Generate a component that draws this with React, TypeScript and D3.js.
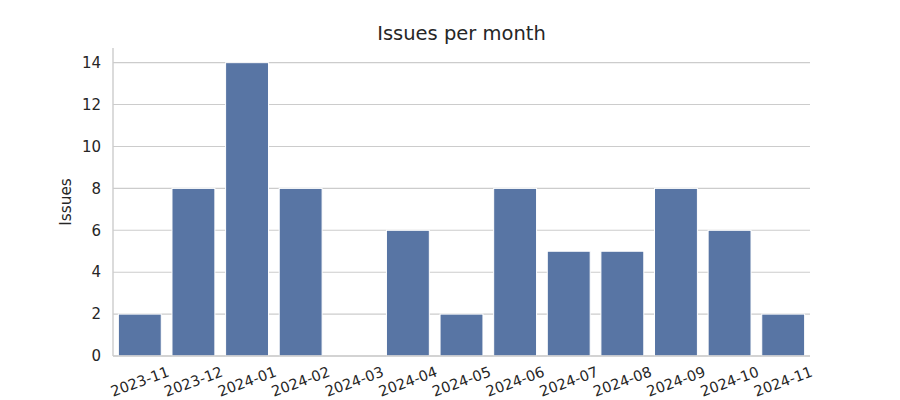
import React from "react";
import * as d3 from "d3";

const months = ["2023-11","2023-12","2024-01","2024-02","2024-03","2024-04","2024-05","2024-06","2024-07","2024-08","2024-09","2024-10","2024-11"];
const issues = [2, 8, 14, 8, 0, 6, 2, 8, 5, 5, 8, 6, 2];
const yTicks = [0, 2, 4, 6, 8, 10, 12, 14];

const W = 900, H = 400;
const L = 113, R = 810, T = 48, B = 356;
const FONT = "DejaVu Sans, sans-serif";
const TXT = "#262626";
const GRID = "#cccccc";

export default function App() {
  const x = d3.scaleLinear().domain([-0.5, months.length - 0.5]).range([L, R]);
  const y = d3.scaleLinear().domain([0, 14.7]).range([B, T]);
  const bw = (x(1) - x(0)) * 0.8;
  return (
    <svg width={W} height={H} style={{ position: "absolute", left: 0, top: 0 }} fontFamily={FONT}>
      <rect width={W} height={H} fill="#fff" />
      {yTicks.map(t => (
        <g key={t}>
          <line x1={L} x2={R} y1={y(t)} y2={y(t)} stroke={GRID} strokeWidth={1.1} />
          <text x={L - 12} y={y(t)} dy="0.35em" textAnchor="end" fontSize={15} fill={TXT}>{t}</text>
        </g>
      ))}
      {issues.map((v, i) => (
        <rect key={i} x={x(i) - bw / 2} y={y(v)} width={bw} height={B - y(v)} fill="#5875a4" stroke="#ffffff" strokeWidth={1} />
      ))}
      <line x1={L} x2={L} y1={T} y2={B} stroke={GRID} strokeWidth={1.4} />
      <line x1={L} x2={R} y1={B} y2={B} stroke={GRID} strokeWidth={1.4} />
      {months.map((m, i) => (
        <text key={m} transform={`translate(${x(i)},${B + 25.5}) rotate(-20)`} textAnchor="middle" dy="0.35em" fontSize={14.6} fill={TXT}>{m}</text>
      ))}
      <text transform={`translate(71,${(T + B) / 2}) rotate(-90)`} textAnchor="middle" fontSize={15.3} fill={TXT}>Issues</text>
      <text x={(L + R) / 2} y={40} textAnchor="middle" fontSize={19.5} fill={TXT}>Issues per month</text>
    </svg>
  );
}
